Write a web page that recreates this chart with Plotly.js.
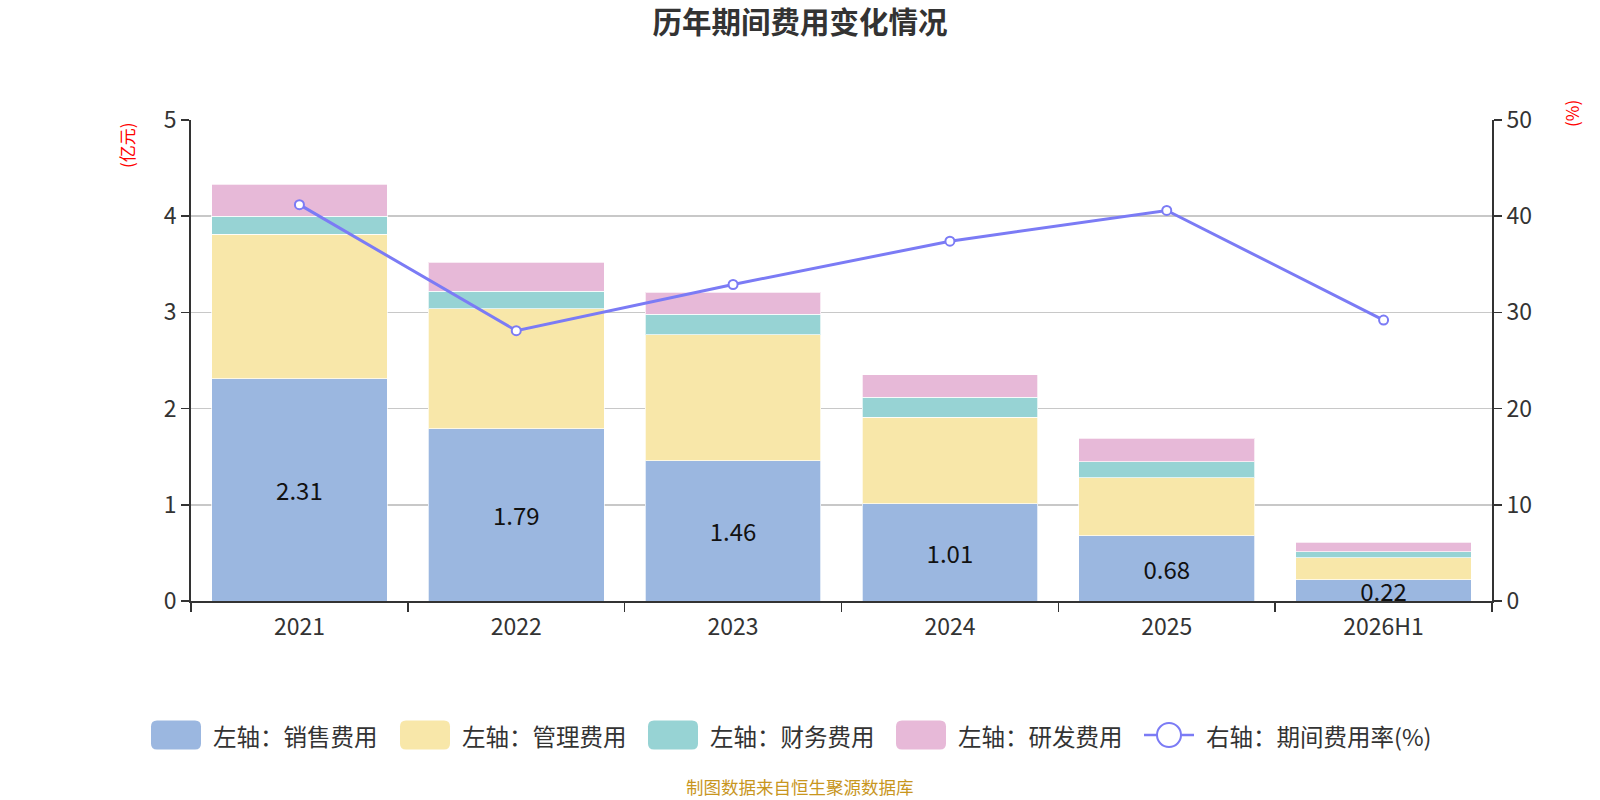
<!DOCTYPE html>
<html>
<head>
<meta charset="utf-8">
<script src="https://cdn.plot.ly/plotly-3.0.1.min.js"></script>
<style>html,body{margin:0;padding:0;background:#fff;}#chart{width:1600px;height:800px;}</style>
</head>
<body>
<div id="chart"></div>
<script>
const categories = ['2021', '2022', '2023', '2024', '2025', '2026H1'];
const salesExp = [2.31, 1.79, 1.46, 1.01, 0.68, 0.22];
const adminExp = [1.50, 1.25, 1.31, 0.90, 0.60, 0.23];
const finExp = [0.19, 0.18, 0.21, 0.21, 0.17, 0.06];
const rdExp = [0.33, 0.30, 0.23, 0.23, 0.24, 0.10];
const expRate = [41.2, 28.1, 32.9, 37.4, 40.6, 29.2];
const seriesNames = ['左轴：销售费用', '左轴：管理费用', '左轴：财务费用', '左轴：研发费用', '右轴：期间费用率(%)'];
const seriesColors = ['#9bb7e0', '#f8e7a9', '#97d3d4', '#e7b9d8', '#7b7bf5'];

const FONT = '"Noto Sans CJK SC", "Noto Sans", sans-serif';

// plot area geometry (pixels)
const W = 1600, H = 800;
const M = {l: 191, r: 108, t: 120, b: 199};
const PW = W - M.l - M.r, PH = H - M.t - M.b;
const px2x = p => (p - M.l) / PW;
const py2y = p => (H - M.b - p) / PH;

function barTrace(i, vals, withText) {
  const t = {
    type: 'bar', name: seriesNames[i], x: categories, y: vals,
    marker: {color: seriesColors[i], line: {color: 'rgba(255,255,255,0.7)', width: 1}},
    hoverinfo: 'x+y+name'
  };
  if (withText) {
    t.text = vals.map(v => v.toFixed(2));
    t.textposition = 'inside';
    t.insidetextanchor = 'middle';
    t.constraintext = 'none';
    t.textfont = {family: FONT, size: 24, color: '#111'};
  } else {
    t.textposition = 'none';
  }
  return t;
}

const traces = [
  barTrace(0, salesExp, true),
  barTrace(1, adminExp, false),
  barTrace(2, finExp, false),
  barTrace(3, rdExp, false),
  {
    type: 'scatter', mode: 'lines+markers', name: seriesNames[4],
    x: categories, y: expRate, yaxis: 'y2',
    line: {color: seriesColors[4], width: 3},
    marker: {symbol: 'circle', size: 9, color: '#ffffff', line: {color: seriesColors[4], width: 2}}
  }
];

// custom legend (rounded swatches like the original)
const shapes = [];
const annotations = [
  {text: '(亿元)', xref: 'paper', yref: 'paper', x: px2x(127), y: py2y(145), textangle: -90,
   showarrow: false, xanchor: 'center', yanchor: 'middle', font: {family: FONT, size: 17, color: '#ff0000'}},
  {text: '(%)', xref: 'paper', yref: 'paper', x: px2x(1571), y: py2y(114), textangle: -90,
   showarrow: false, xanchor: 'center', yanchor: 'middle', font: {family: FONT, size: 17, color: '#ff0000'}},
  {text: '制图数据来自恒生聚源数据库', xref: 'paper', yref: 'paper', x: px2x(800), y: py2y(786),
   showarrow: false, xanchor: 'center', yanchor: 'middle', borderpad: 0,
   font: {family: FONT, size: 17.5, color: '#c8961e'}}
];
const legY = 735, swW = 50, swH = 29, rad = 6;
const legStarts = [151, 400, 648, 896, 1144];
legStarts.forEach((sx, i) => {
  if (i < 4) {
    const x0 = sx, x1 = sx + swW, y0 = legY - swH / 2, y1 = legY + swH / 2;
    const X = p => px2x(p), Y = p => py2y(p);
    const path = `M ${X(x0 + rad)} ${Y(y0)} L ${X(x1 - rad)} ${Y(y0)} Q ${X(x1)} ${Y(y0)} ${X(x1)} ${Y(y0 + rad)} ` +
      `L ${X(x1)} ${Y(y1 - rad)} Q ${X(x1)} ${Y(y1)} ${X(x1 - rad)} ${Y(y1)} L ${X(x0 + rad)} ${Y(y1)} ` +
      `Q ${X(x0)} ${Y(y1)} ${X(x0)} ${Y(y1 - rad)} L ${X(x0)} ${Y(y0 + rad)} Q ${X(x0)} ${Y(y0)} ${X(x0 + rad)} ${Y(y0)} Z`;
    shapes.push({type: 'path', xref: 'paper', yref: 'paper', path: path,
      fillcolor: seriesColors[i], line: {width: 0}});
  } else {
    shapes.push({type: 'line', xref: 'paper', yref: 'paper', x0: px2x(sx), x1: px2x(sx + swW),
      y0: py2y(legY), y1: py2y(legY), line: {color: seriesColors[i], width: 2.5}});
    shapes.push({type: 'circle', xref: 'paper', yref: 'paper',
      x0: px2x(sx + swW / 2 - 12), x1: px2x(sx + swW / 2 + 12),
      y0: py2y(legY - 12), y1: py2y(legY + 12),
      fillcolor: '#ffffff', line: {color: seriesColors[i], width: 2}});
  }
  annotations.push({text: seriesNames[i], xref: 'paper', yref: 'paper',
    x: px2x(sx + swW + 10), y: py2y(legY + 1), xanchor: 'left', yanchor: 'middle', showarrow: false,
    font: {family: FONT, size: 23.5, color: '#333'}});
});

const tickFont = {family: FONT, size: 23, color: '#333'};
const layout = {
  width: W, height: H,
  paper_bgcolor: '#fff', plot_bgcolor: '#fff',
  margin: M,
  barmode: 'stack', bargap: 0.19,
  font: {family: FONT, color: '#333'},
  showlegend: false,
  title: {text: '<b>历年期间费用变化情况</b>', x: 0.5, xanchor: 'center', xref: 'container',
          y: 1 - 22.5 / H, yanchor: 'middle', font: {family: FONT, size: 29.5, color: '#333'}},
  xaxis: {
    type: 'category', showline: true, linecolor: '#333', linewidth: 2,
    ticks: 'outside', ticklen: 9, tickcolor: '#333', tickwidth: 1.5, tickson: 'boundaries',
    ticklabelstandoff: 4,
    tickfont: tickFont, showgrid: false, zeroline: false
  },
  yaxis: {
    range: [0, 5], dtick: 1, showline: true, linecolor: '#333', linewidth: 2,
    ticks: 'outside', ticklen: 8, tickcolor: '#333', tickwidth: 1.5,
    tickfont: tickFont,
    showgrid: true, gridcolor: '#c8c8c8', gridwidth: 1.5, zeroline: false
  },
  yaxis2: {
    overlaying: 'y', side: 'right', range: [0, 50], dtick: 10,
    showline: true, linecolor: '#333', linewidth: 2,
    ticks: 'outside', ticklen: 8, tickcolor: '#333', tickwidth: 1.5,
    tickfont: tickFont, showgrid: false, zeroline: false
  },
  shapes: shapes,
  annotations: annotations
};

Plotly.newPlot('chart', traces, layout, {displayModeBar: false, staticPlot: true});
</script>
</body>
</html>
